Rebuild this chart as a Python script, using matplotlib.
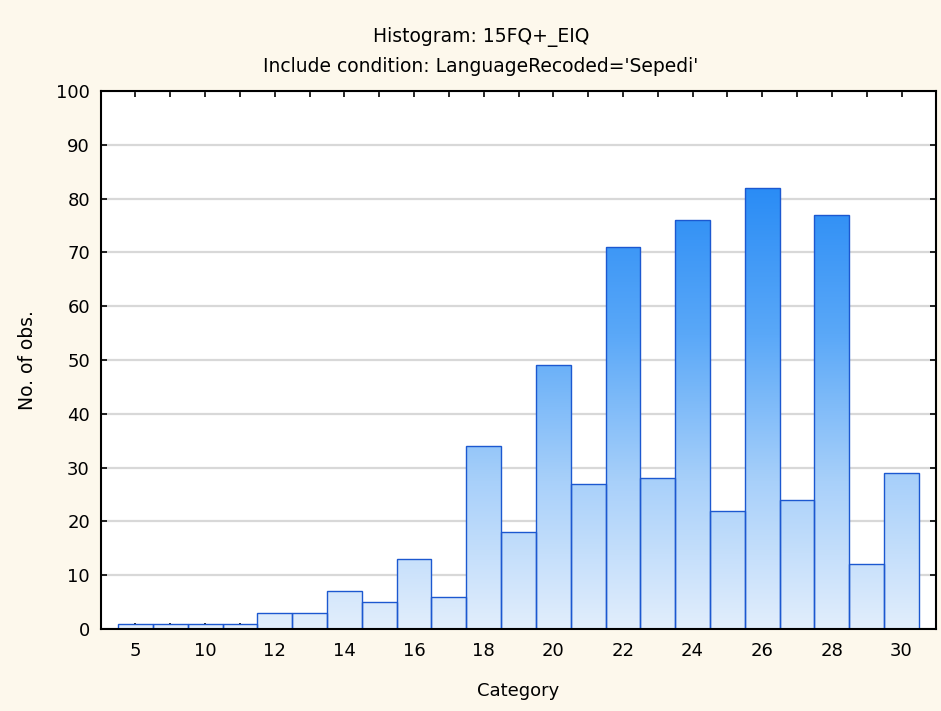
import matplotlib
matplotlib.use("Agg")
import matplotlib.pyplot as plt
import numpy as np
from matplotlib.colors import LinearSegmentedColormap
from matplotlib.patches import Rectangle

categories = ["5", "8", "10", "11", "12", "13", "14", "15", "16", "17", "18", "19",
              "20", "21", "22", "23", "24", "25", "26", "27", "28", "29", "30"]
counts = [1, 1, 1, 1, 3, 3, 7, 5, 13, 6, 34, 18, 49, 27, 71, 28, 76, 22, 82, 24, 77, 12, 29]
shown_labels = ["5", "10", "12", "14", "16", "18", "20", "22", "24", "26", "28", "30"]

plt.rcParams['font.family'] = ['DejaVu Sans']
bg = "#FDF8EC"
fig = plt.figure(figsize=(9.41, 7.11), dpi=100, facecolor=bg)
ax = fig.add_axes([101/941, 1 - 629/711, (936-101)/941, (629-91)/711])
ax.set_facecolor("white")

x = np.arange(len(categories))
cmap = LinearSegmentedColormap.from_list("g", ["#E2EEFC", "#A8D0FA", "#5AA8F8", "#2A8CF5"])
vmax = max(counts)
grad = np.linspace(0, 1, 256).reshape(-1, 1)
w = 1.0
for xi, c in zip(x, counts):
    top = c / vmax
    im = ax.imshow(grad[: max(2, int(256 * top))], extent=(xi - w/2, xi + w/2, 0, c),
                   origin="lower", aspect="auto", cmap=cmap, vmin=0, vmax=1, zorder=2,
                   interpolation="bilinear")
    rect = Rectangle((xi - w/2, 0), w, c, facecolor="none", edgecolor="#1C58D0",
                     linewidth=1.0, zorder=3)
    ax.add_patch(rect)
    im.set_clip_path(rect)

ax.set_xlim(-0.99, len(categories) - 0.01)
ax.set_ylim(0, 100)
ax.set_yticks(np.arange(0, 101, 10))
ax.yaxis.grid(True, color="#D8D8D8", linewidth=1.6, zorder=0)
ax.set_axisbelow(True)
ax.set_xticks(x)
ax.set_xticklabels([c if c in shown_labels else "" for c in categories])
ax.tick_params(axis="both", direction="in", length=4, width=1.2, labelsize=13,
               top=True, right=True, colors="black")
ax.tick_params(axis="x", pad=9)
ax.tick_params(axis="y", pad=8)
for s in ax.spines.values():
    s.set_linewidth(1.5)
    s.set_zorder(5)

ax.set_xlabel("Category", fontsize=13, labelpad=16)
ax.set_ylabel("No. of obs.", fontsize=13.5, labelpad=14)
fig.text(481/941, 1 - 37/711, "Histogram: 15FQ+_EIQ", ha="center", va="center", fontsize=13.5)
fig.text(481/941, 1 - 66/711, "Include condition: LanguageRecoded='Sepedi'", ha="center", va="center", fontsize=13.5)

fig.savefig("out.png", dpi=100, facecolor=bg)
